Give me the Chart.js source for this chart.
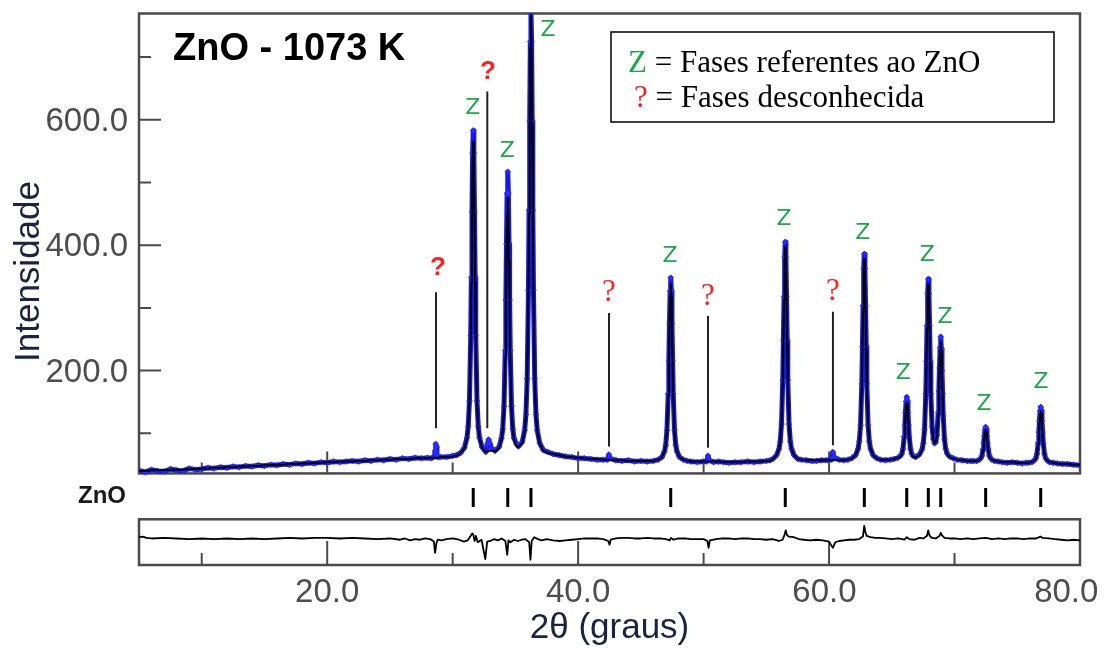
<!DOCTYPE html>
<html>
<head>
<meta charset="utf-8">
<script src="https://cdn.jsdelivr.net/npm/chart.js@4.4.1/dist/chart.umd.min.js"></script>
<style>
html,body{margin:0;padding:0;background:#fff;}
canvas{display:block;}
</style>
</head>
<body>
<canvas id="c" width="1115" height="649"></canvas>
<script>
// ---------------- DATA ----------------
const twoTheta = [
 5.0,5.5,6.0,6.5,7.0,7.5,8.0,8.5,9.0,9.5,10.0,10.5,11.0,11.5,12.0,12.5,13.0,13.5,14.0,14.5,15.0,15.5,16.0,16.5,17.0,17.5,18.0,18.5,19.0,19.5,20.0,20.5,21.0,21.5,22.0,22.5,23.0,23.5,24.0,24.5,25.0,25.5,26.0,26.5,27.0,27.5,28.0,28.3,
 28.55,28.6,28.65,28.7,28.75,28.8,29.0,29.5,30.0,30.3,
 30.64,30.94,31.14,31.24,31.34,31.44,31.49,31.54,31.59,31.64,31.69,31.74,31.79,31.84,31.94,32.04,32.14,32.34,32.64,
 32.76,32.86,32.96,33.1,
 33.39,33.69,33.89,33.99,34.09,34.19,34.24,34.29,34.34,34.39,34.44,34.49,34.54,34.59,34.69,34.79,34.89,35.09,
 35.24,35.54,35.74,35.84,35.94,36.04,36.09,36.14,36.19,36.24,36.29,36.34,36.39,36.44,36.54,36.64,36.74,36.94,37.24,
 37.6,38.0,38.5,39.0,39.5,40.0,40.5,41.0,41.5,42.0,42.35,42.45,42.55,43.0,43.5,44.0,44.5,45.0,45.5,46.0,
 46.38,46.68,46.88,46.98,47.08,47.18,47.23,47.28,47.33,47.38,47.43,47.48,47.53,47.58,47.68,47.78,47.88,48.08,48.38,
 48.7,49.0,49.5,50.0,50.25,50.35,50.45,50.8,51.2,51.6,52.0,52.5,53.0,53.5,54.0,54.5,55.0,55.3,
 55.51,55.81,56.01,56.11,56.21,56.31,56.36,56.41,56.46,56.51,56.56,56.61,56.66,56.71,56.81,56.91,57.01,57.21,57.51,
 57.8,58.2,58.6,59.0,59.4,59.8,60.2,60.3,60.4,60.8,61.2,61.5,
 61.81,62.11,62.31,62.41,62.51,62.61,62.66,62.71,62.76,62.81,62.86,62.91,62.96,63.01,63.11,63.21,63.31,63.51,63.81,
 64.1,64.5,64.9,
 65.19,65.49,65.69,65.79,65.89,65.99,66.04,66.09,66.14,66.19,66.24,66.29,66.34,66.39,66.49,66.59,66.69,66.89,67.19,
 67.41,67.51,67.61,67.71,67.76,67.81,67.86,67.91,67.96,68.01,68.06,68.11,68.21,68.31,68.41,
 68.50,68.60,68.70,68.75,68.80,68.85,68.90,68.95,69.00,69.05,69.10,69.20,69.30,69.40,69.60,69.90,
 70.2,70.6,71.0,71.3,
 71.48,71.78,71.98,72.08,72.18,72.28,72.33,72.38,72.43,72.48,72.53,72.58,72.63,72.68,72.78,72.88,72.98,73.18,73.48,
 73.8,74.2,74.6,75.0,75.4,75.7,
 75.87,76.17,76.37,76.47,76.57,76.67,76.72,76.77,76.82,76.87,76.92,76.97,77.02,77.07,77.17,77.27,77.37,77.57,77.87,
 78.2,78.6,79.0,79.5,80.0
];
const observed = [
 41,38,42,40,39,43,41,40,44,42,43,45,44,46,45,47,46,48,47,49,48,50,49,51,50,52,51,53,52,54,53,55,54,55,56,55,57,56,58,57,59,58,60,59,61,60,61,60,
 63,72,83,78,66,62,62,62,64,65,
 69,77,93,111,152,256,349,453,547,583,547,453,349,256,152,111,93,78,70,
 82,90,84,76,
 72,78,92,107,143,232,313,402,483,517,483,402,313,232,143,107,92,83,
 79,86,105,130,187,328,456,598,725,775,725,598,456,328,187,130,105,84,73,
 70,67,65,63,62,60,60,59,58,58,58,66,60,57,56,57,55,56,55,56,
 58,62,71,81,105,163,216,275,327,348,327,275,216,163,105,81,71,62,58,
 56,55,54,55,55,64,57,54,55,54,53,54,54,55,54,55,56,57,
 59,65,75,87,115,185,248,318,381,405,381,318,248,185,115,87,75,65,59,
 58,57,56,56,57,57,58,70,62,58,57,58,
 60,65,75,87,113,179,238,304,363,386,363,304,238,179,113,87,75,65,60,
 58,57,58,
 59,61,64,67,75,95,113,133,151,158,151,133,113,95,75,67,64,62,66,
 74,84,106,163,215,272,323,346,323,272,215,163,111,91,84,
 86,97,133,167,204,237,254,235,200,163,128,90,75,68,63,60,
 58,57,56,56,
 56,56,58,60,64,75,85,96,106,110,106,96,85,75,64,60,58,56,55,
 54,53,54,53,52,53,
 53,54,57,60,67,85,102,120,136,142,136,120,102,85,67,60,57,54,53,
 52,51,51,50,49
];
const calculated = [
 40,40,41,41,41,42,42,42,43,43,44,44,45,45,46,46,47,47,48,48,49,49,50,50,51,51,52,52,53,53,54,54,55,55,55,56,56,57,57,58,58,59,59,59,60,60,60,61,
 61,61,61,61,61,61,62,62,63,64,
 69,76,92,109,149,249,340,440,530,565,530,440,340,249,149,109,92,77,70,
 71,72,72,72,
 71,77,89,104,136,218,291,373,446,475,446,373,291,218,136,104,89,80,
 78,84,104,129,185,325,450,590,716,765,716,590,450,325,185,129,104,83,72,
 69,67,65,63,62,61,60,59,59,58,58,58,58,57,57,56,56,56,56,56,
 58,62,71,80,103,160,211,267,318,338,318,267,211,160,103,80,71,62,58,
 56,55,55,55,55,55,55,55,55,54,54,54,54,55,55,55,56,56,
 59,65,75,87,114,183,244,312,374,398,374,312,244,183,114,87,75,65,59,
 58,57,57,57,57,57,57,57,57,57,57,58,
 60,65,75,86,112,176,234,298,356,378,356,298,234,176,112,86,75,65,60,
 58,58,58,
 59,61,63,66,74,92,109,127,144,150,144,127,109,92,74,66,63,61,65,
 73,83,105,161,212,268,318,338,318,268,212,161,109,90,84,
 85,95,130,162,198,230,245,228,195,159,125,88,74,67,62,60,
 58,57,56,56,
 56,56,58,60,63,74,83,93,102,106,102,93,83,74,63,60,58,56,55,
 54,54,54,53,53,53,
 53,54,57,59,66,83,98,115,130,136,130,115,98,83,66,59,57,54,53,
 52,51,51,50,50
];
const diffTheta = [
 5.0,5.3,5.6,6.0,7.0,8.0,9.0,10.0,11.0,12.0,
 13.0,14.0,15.0,16.0,17.0,18.0,19.0,20.0,21.0,22.0,
 23.0,24.0,25.0,25.8,26.2,26.6,27.0,27.4,27.8,28.2,
 28.5,28.6,28.7,28.8,29.1,29.5,30.0,30.5,30.9,31.2,
 31.4,31.55,31.65,31.75,31.85,32.0,32.3,32.6,32.75,33.0,
 33.3,33.6,33.9,34.2,34.35,34.45,34.6,34.9,35.2,35.5,
 35.8,36.1,36.2,36.3,36.5,36.8,37.1,37.5,38.0,38.5,
 39.0,39.5,40.0,40.5,41.0,41.5,42.0,42.4,42.5,42.6,
 43.0,43.5,44.0,44.5,45.0,45.5,46.0,46.5,47.0,47.3,
 47.4,47.6,48.0,48.5,49.0,49.5,50.0,50.3,50.4,50.5,
 51.0,51.5,52.0,52.5,53.0,53.5,54.0,54.5,55.0,55.5,
 56.0,56.3,56.45,56.55,56.65,56.8,57.2,57.6,58.0,58.5,
 59.0,59.5,60.0,60.3,60.5,60.8,61.2,61.6,62.0,62.4,
 62.7,62.8,62.9,63.0,63.3,63.7,64.0,64.5,65.0,65.5,
 66.0,66.2,66.4,66.8,67.2,67.5,67.8,67.9,68.0,68.2,
 68.5,68.8,68.9,69.0,69.2,69.6,70.0,70.5,71.0,71.5,
 72.0,72.5,73.0,73.5,74.0,74.5,75.0,75.5,76.0,76.5,
 76.85,77.0,77.5,78.0,78.5,79.0,79.5,80.0
];
const difference = [
 2,3,1,0,1,0,-1,0,-1,0,
 -1,0,-1,0,1,0,1,1,0,1,
 0,-1,0,-2,0,-3,-1,-2,0,-1,
 -5,-23,-8,-2,-3,-1,0,-2,-5,-3,
 3,8,6,-4,4,-6,-2,-33,-5,-4,
 -1,-3,0,-4,-26,-3,-6,-2,-4,-2,
 -1,-6,-34,-4,2,-1,-3,-1,-3,-4,
 -3,-2,-1,0,0,0,-1,-4,-10,-2,
 0,1,1,0,0,1,0,0,-1,-3,
 1,-2,0,0,-1,-1,-1,-4,-15,-3,
 -1,0,0,-1,0,0,-1,-1,-2,-1,
 -4,-2,6,13,5,3,2,-1,-2,-3,
 -2,-3,-5,-15,-6,-4,-3,-2,-2,-1,
 3,20,10,4,2,1,1,0,-1,0,
 -2,2,-1,-2,1,0,4,13,5,1,
 0,4,9,5,1,0,0,-1,0,-1,
 0,1,-1,0,-1,0,0,-1,0,0,
 3,1,0,-1,-2,-3,-2,-3
];
// ZnO reflection positions (tick row)
const reflections = [31.64,34.39,36.24,47.38,56.51,62.81,66.19,67.91,68.90,72.48,76.87];
// "Z" annotations (2θ, intensity)
const zLabelTheta = [31.60,34.35,37.60,47.32,56.41,62.68,65.92,67.83,69.24,72.35,76.89];
const zLabelIntensity = [619,550,742,383,442,419,196,384,285,147,181];
// "?" unknown phases: marker lines and labels
const unknownTheta = [28.67,32.76,42.46,50.35,60.31];
const unknownLineTop = [325,645,292,287,294];
const unknownLineBottom = [108,108,79,77,81];
const unknownLabelTheta = [28.83,32.82,42.46,50.35,60.31];
const unknownLabelIntensity = [364,676,324,317,325];
// axis ticks
const xTickValues = [10,20,30,40,50,60,70,80];
const xLabelValues = [20,40,60,80];
const yTickValues = [100,200,300,400,500,600,700];
const yLabelValues = [200,400,600];

// ---------------- CHART ----------------
const SANS = "'Liberation Sans', Arial, Helvetica, sans-serif";
const SERIF = "'Liberation Serif', 'Times New Roman', serif";
Chart.defaults.font.family = SANS;

const Y_MIN = -110.05, Y_MAX = 769.5;     // main intensity scale
const MAIN_FLOOR = 36;                     // lower limit of upper panel
const YD_MIN = -42.3, YD_MAX = 837.3;      // difference scale
const DIFF_CEIL = 30.6;                    // upper limit of difference panel
const xLabelPad = {20:'', 40:'', 60:' ', 80:'   '};

const decor = {
  id: 'decor',
  beforeDatasetsDraw(chart) {
    const {ctx, scales: {x, y, yD}} = chart;
    const L = x.left, R = x.right;
    const mTop = y.getPixelForValue(Y_MAX), mBot = y.getPixelForValue(MAIN_FLOOR);
    const dTop = yD.getPixelForValue(DIFF_CEIL), dBot = yD.getPixelForValue(YD_MIN);
    ctx.save();
    ctx.strokeStyle = '#4a4a4a';
    ctx.lineWidth = 2.5;
    ctx.strokeRect(L, mTop, R - L, mBot - mTop);
    ctx.strokeRect(L, dTop, R - L, dBot - dTop);
    ctx.lineWidth = 2;
    ctx.beginPath();
    for (const v of yTickValues) {
      const py = y.getPixelForValue(v);
      const len = (v % 200 === 0) ? 22 : 12;
      ctx.moveTo(L, py); ctx.lineTo(L + len, py);
    }
    for (const v of xTickValues) {
      const px = x.getPixelForValue(v);
      const major = v % 20 === 0;
      ctx.moveTo(px, mBot); ctx.lineTo(px, mBot - (major ? 22 : 11));
      ctx.moveTo(px, dBot); ctx.lineTo(px, dBot - (major ? 24 : 12));
    }
    ctx.stroke();
    ctx.restore();
  },
  afterDatasetsDraw(chart) {
    const {ctx, scales: {x, y}} = chart;
    ctx.save();
    // panel title
    ctx.fillStyle = '#000';
    ctx.textAlign = 'left';
    ctx.textBaseline = 'alphabetic';
    ctx.font = 'bold 38px ' + SANS;
    ctx.fillText('ZnO - 1073 K', 173, 60);
    // tick row label
    ctx.font = 'bold 24px ' + SANS;
    ctx.fillStyle = '#1a1a1a';
    ctx.fillText('ZnO', 78, 503);
    // Z labels
    ctx.textAlign = 'center';
    ctx.textBaseline = 'middle';
    ctx.font = "22px 'DejaVu Sans', " + SANS;
    ctx.fillStyle = '#1fa74a';
    zLabelTheta.forEach((t, i) => {
      ctx.fillText('Z', x.getPixelForValue(t), y.getPixelForValue(zLabelIntensity[i]));
    });
    // ? labels
    ctx.fillStyle = '#ff1f1f';
    unknownLabelTheta.forEach((t, i) => {
      ctx.font = i < 2 ? 'bold 26px ' + SANS : '31px ' + SERIF;
      ctx.fillText('?', x.getPixelForValue(t), y.getPixelForValue(unknownLabelIntensity[i]));
    });
    // legend box
    ctx.fillStyle = '#fff';
    ctx.fillRect(611, 32, 443, 90);
    ctx.strokeStyle = '#000';
    ctx.lineWidth = 1.5;
    ctx.strokeRect(611, 32, 443, 90);
    ctx.textAlign = 'left';
    ctx.textBaseline = 'alphabetic';
    ctx.font = '31px ' + SERIF;
    ctx.fillStyle = '#1aa64a';
    ctx.fillText('Z', 628, 72);
    let w = ctx.measureText('Z').width;
    ctx.fillStyle = '#000';
    ctx.fillText(' = Fases referentes ao ZnO', 628 + w, 72);
    ctx.fillStyle = '#ff1a1a';
    ctx.fillText('?', 634, 107);
    w = ctx.measureText('?').width;
    ctx.fillStyle = '#000';
    ctx.fillText(' = Fases desconhecida', 634 + w, 107);
    // y axis title
    ctx.translate(29, 271.5);
    ctx.rotate(-Math.PI / 2);
    ctx.textAlign = 'center';
    ctx.textBaseline = 'middle';
    ctx.font = '35px ' + SANS;
    ctx.fillStyle = '#1c2340';
    ctx.fillText('Intensidade', 0, 0);
    ctx.restore();
  }
};

const obsPoints = twoTheta.map((t, i) => ({x: t, y: observed[i]}));
const calcPoints = twoTheta.map((t, i) => ({x: t, y: calculated[i]}));
const diffPoints = diffTheta.map((t, i) => ({x: t, y: difference[i]}));
const reflPoints = reflections.map(t => ({x: t, y: 0}));
const unknownSets = unknownTheta.map((t, i) => ({
  data: [{x: t, y: unknownLineTop[i]}, {x: t, y: unknownLineBottom[i]}],
  showLine: true, borderColor: '#222', borderWidth: 2, pointRadius: 0, yAxisID: 'y'
}));

new Chart(document.getElementById('c'), {
  type: 'scatter',
  data: {
    datasets: [
      {data: calcPoints, showLine: true, borderColor: '#000', borderWidth: 2, pointRadius: 0,
       borderJoinStyle: 'round', tension: 0, yAxisID: 'y'},
      {data: obsPoints, showLine: true, borderColor: '#1818e6', borderWidth: 5, borderJoinStyle: 'round',
       pointStyle: 'cross', pointRadius: 3, pointBorderColor: '#2d2dff', pointBorderWidth: 1.5,
       tension: 0, yAxisID: 'y'},
      ...unknownSets,
      {data: diffPoints, showLine: true, borderColor: '#000', borderWidth: 1.8, pointRadius: 0,
       borderJoinStyle: 'round', yAxisID: 'yD'},
      {data: reflPoints, showLine: false, pointStyle: 'line', pointRotation: 90, pointRadius: 9.5,
       pointBorderColor: '#000', pointBorderWidth: 3, yAxisID: 'yR'}
    ]
  },
  options: {
    responsive: false,
    animation: false,
    devicePixelRatio: 1,
    events: [],
    layout: {padding: {top: 13.5, right: 35, left: 0, bottom: 0}},
    plugins: {legend: {display: false}, tooltip: {enabled: false}},
    scales: {
      x: {
        type: 'linear', position: 'bottom', min: 5, max: 80,
        afterBuildTicks: s => { s.ticks = xLabelValues.map(v => ({value: v})); },
        afterFit: s => { s.height = 84; s.paddingLeft = 0; s.paddingRight = 0; s.paddingTop = 0; s.paddingBottom = 0; },
        grid: {display: false, drawTicks: false},
        border: {display: false},
        ticks: {color: '#4d4d4d', font: {size: 33}, padding: 8, maxRotation: 0, autoSkip: false,
                callback: v => v.toFixed(1) + (xLabelPad[v] || '')},
        title: {display: true, text: '2θ (graus)', color: '#1c2340', font: {size: 35}, padding: {top: 0, bottom: 0}}
      },
      y: {
        position: 'left', min: Y_MIN, max: Y_MAX,
        afterBuildTicks: s => { s.ticks = yLabelValues.map(v => ({value: v})); },
        afterFit: s => { s.width = 139; s.paddingTop = 0; s.paddingBottom = 0; s.paddingLeft = 0; s.paddingRight = 0; },
        grid: {display: false, drawTicks: false},
        border: {display: false},
        ticks: {color: '#4d4d4d', font: {size: 33}, padding: 11, labelOffset: 2,
                callback: v => v.toFixed(1)}
      },
      yD: {display: false, position: 'left', min: YD_MIN, max: YD_MAX},
      yR: {display: false, position: 'left', min: -1, max: 7.17}
    }
  },
  plugins: [decor]
});
</script>
</body>
</html>
